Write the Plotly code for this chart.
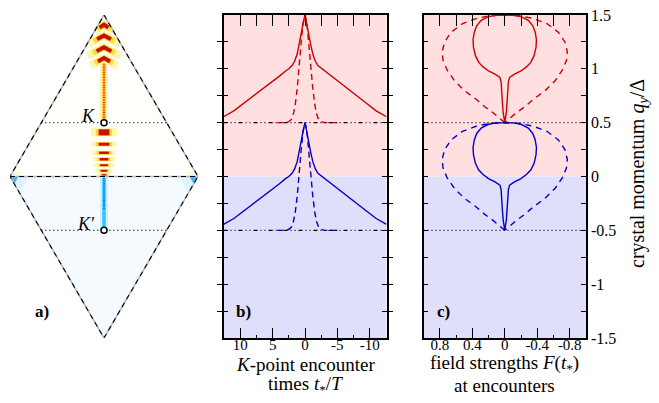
import plotly.graph_objects as go

W, H = 659, 403

# ---------------- data ----------------
# panel b: K-point encounter times (half curves, t >= 0), mirrored for t < 0
red_solid_t = [0, 0.2, 0.4, 0.6, 0.9, 1.2, 1.6, 2.0, 2.5, 3.0, 4.0, 5.0, 6.5, 8.0, 9.5, 11.0, 12.6]
red_solid_q = [1.5, 1.45, 1.38, 1.31, 1.22, 1.14, 1.07, 1.03, 1.0, 0.98, 0.93, 0.885, 0.82, 0.75, 0.68, 0.61, 0.555]
red_dash_t = [0, 0.3, 0.6, 0.9, 1.2, 1.5, 1.8, 2.1, 2.5, 3.0, 5.0]
red_dash_q = [1.5, 1.42, 1.24, 1.0, 0.82, 0.67, 0.58, 0.53, 0.51, 0.5, 0.5]
blue_solid_t = [0, 0.2, 0.4, 0.6, 0.9, 1.2, 1.6, 2.0, 2.5, 3.0, 4.0, 5.0, 6.5, 8.0, 9.5, 11.0, 12.6]
blue_solid_q = [0.5, 0.45, 0.38, 0.31, 0.22, 0.14, 0.07, 0.03, 0.0, -0.02, -0.07, -0.115, -0.18, -0.25, -0.32, -0.39, -0.445]
blue_dash_t = [0, 0.3, 0.6, 0.9, 1.2, 1.5, 1.8, 2.1, 2.5, 3.0, 5.0]
blue_dash_q = [0.5, 0.42, 0.24, 0.0, -0.18, -0.33, -0.42, -0.47, -0.49, -0.5, -0.5]
ref_lines_q = [0.5, -0.5]

# panel c: field strengths at encounters (half loops, F >= 0), mirrored
red_solid_F = [0, 0.02, 0.03, 0.04, 0.045, 0.06, 0.12, 0.2, 0.27, 0.32, 0.36, 0.385, 0.39, 0.375, 0.345, 0.29, 0.2, 0.1, 0]
red_solid_qc = [0.5, 0.6, 0.7, 0.8, 0.88, 0.92, 0.95, 0.98, 1.02, 1.06, 1.12, 1.2, 1.27, 1.34, 1.4, 1.45, 1.485, 1.498, 1.5]
red_dash_F = [0, 0.14, 0.25, 0.34, 0.5, 0.62, 0.71, 0.76, 0.77, 0.74, 0.66, 0.52, 0.34, 0.16, 0]
red_dash_qc = [0.5, 0.59, 0.65, 0.71, 0.8, 0.89, 0.99, 1.08, 1.16, 1.25, 1.34, 1.42, 1.47, 1.495, 1.5]
blue_solid_F = [0, 0.02, 0.03, 0.04, 0.045, 0.06, 0.12, 0.2, 0.27, 0.32, 0.36, 0.385, 0.39, 0.375, 0.345, 0.29, 0.2, 0.1, 0]
blue_solid_qc = [-0.5, -0.4, -0.3, -0.2, -0.12, -0.08, -0.05, -0.02, 0.02, 0.06, 0.12, 0.2, 0.27, 0.34, 0.4, 0.45, 0.485, 0.498, 0.5]
blue_dash_F = [0, 0.14, 0.25, 0.34, 0.5, 0.62, 0.71, 0.76, 0.77, 0.74, 0.66, 0.52, 0.34, 0.16, 0]
blue_dash_qc = [-0.5, -0.41, -0.35, -0.29, -0.2, -0.11, -0.01, 0.08, 0.16, 0.25, 0.34, 0.42, 0.47, 0.495, 0.5]

# axis ticks
b_ticks = [10, 5, 0, -5, -10]
b_ticktext = ["10", "5", "0", "-5", "-10"]
c_ticks = [0.8, 0.4, 0, -0.4, -0.8]
c_ticktext = ["0.8", "0.4", "0", "-0.4", "-0.8"]
q_ticks = [1.5, 1, 0.5, 0, -0.5, -1, -1.5]
q_ticktext = ["1.5", "1", "0.5", "0", "-0.5", "-1", "-1.5"]

# panel a: Brillouin-zone diamond and density pattern
diamond_x = [0, 0.866, 0, -0.866, 0]
diamond_q = [1.5, 0, -1.5, 0, 1.5]
valley_q = [0.5, -0.5]
stripe_q = [0.41, 0.30, 0.22, 0.16, 0.105, 0.053, 0.015]
stripe_core_hw = [0.05, 0.05, 0.045, 0.04, 0.035, 0.03, 0.022]
stripe_halo_hw = [0.12, 0.12, 0.11, 0.10, 0.09, 0.08, 0.06]
stripe_core_w = [6, 3, 2.5, 2.5, 2, 2, 1.5]
chev_q = [1.41, 1.31, 1.20, 1.10]
chev_hw = [0.05, 0.08, 0.085, 0.07]
chev_depth = [0.035, 0.045, 0.045, 0.04]

RED = "#cc0000"
BLUE = "#0000cc"
PINK = "#ffdfe0"
LAV = "#dfdffb"
FONT = "Liberation Serif"


def mirror(xs, ys):
    xx = [-v for v in reversed(xs)] + list(xs[1:])
    yy = list(reversed(ys)) + list(ys[1:])
    return xx, yy


def loop(xs, ys):
    xx = list(xs) + [-v for v in reversed(xs)]
    yy = list(ys) + list(reversed(ys))
    return xx, yy


fig = go.Figure()

# ---------- panel b ----------
for t, q, col, dash in [(red_solid_t, red_solid_q, RED, "solid"), (red_dash_t, red_dash_q, RED, "6px,4px"),
                        (blue_solid_t, blue_solid_q, BLUE, "solid"), (blue_dash_t, blue_dash_q, BLUE, "6px,4px")]:
    xx, yy = mirror(t, q)
    fig.add_trace(go.Scatter(x=xx, y=yy, mode="lines", line=dict(color=col, width=1.4, dash=dash),
                             xaxis="x", yaxis="y", hoverinfo="skip"))
for q in ref_lines_q:
    fig.add_trace(go.Scatter(x=[12.6, -12.6], y=[q, q], mode="lines",
                             line=dict(color="black", width=1.2, dash="4px,3px,1px,3px,1px,3px"),
                             xaxis="x3", yaxis="y", hoverinfo="skip"))

# ---------- panel c ----------
for F, q, col, dash in [(red_solid_F, red_solid_qc, RED, "solid"), (red_dash_F, red_dash_qc, RED, "6px,5px"),
                        (blue_solid_F, blue_solid_qc, BLUE, "solid"), (blue_dash_F, blue_dash_qc, BLUE, "6px,5px")]:
    xx, yy = loop(F, q)
    fig.add_trace(go.Scatter(x=xx, y=yy, mode="lines", line=dict(color=col, width=1.4, dash=dash),
                             xaxis="x2", yaxis="y2", hoverinfo="skip"))
for q in ref_lines_q:
    fig.add_trace(go.Scatter(x=[1.0, -1.0], y=[q, q], mode="lines",
                             line=dict(color="black", width=1.2, dash="1px,3px"),
                             xaxis="x4", yaxis="y2", hoverinfo="skip"))

# ---------- panel a ----------
A = dict(xaxis="x5", yaxis="y5", hoverinfo="skip", showlegend=False)
fig.add_trace(go.Scatter(x=[-0.866, 0, 0.866, -0.866], y=[0, 1.5, 0, 0], fill="toself",
                         fillcolor="#fffffc", mode="none", **A))
fig.add_trace(go.Scatter(x=[-0.866, 0, 0.866, -0.866], y=[0, -1.5, 0, 0], fill="toself",
                         fillcolor="#f4faff", mode="none", **A))
for s in [-1, 1]:
    fig.add_trace(go.Scatter(x=[s * 0.866, s * 0.70, s * 0.76, s * 0.866], y=[0, 0, -0.14, 0], fill="toself",
                             fillcolor="#dcf3ff", mode="none", **A))
    fig.add_trace(go.Scatter(x=[s * 0.866, s * 0.79, s * 0.82, s * 0.866], y=[0, 0, -0.06, 0], fill="toself",
                             fillcolor="#33bbff", mode="none", **A))
    fig.add_trace(go.Scatter(x=[s * 0.866, s * 0.74, s * 0.80, s * 0.866], y=[0, 0, 0.06, 0], fill="toself",
                             fillcolor="#fff8d8", mode="none", **A))
# upper stem
fig.add_trace(go.Scatter(x=[0, 0], y=[0.5, 1.08], mode="lines", line=dict(color="#fff3b0", width=8), **A))
fig.add_trace(go.Scatter(x=[0, 0], y=[0.5, 1.08], mode="lines", line=dict(color="#ffbb33", width=3.5), **A))
fig.add_trace(go.Scatter(x=[0, 0], y=[0.52, 1.06], mode="lines", line=dict(color="#ee3300", width=2, dash="1px,1.5px"), **A))
# chevrons
for q, hw, d in zip(chev_q, chev_hw, chev_depth):
    fig.add_trace(go.Scatter(x=[-hw * 1.8, 0, hw * 1.8], y=[q - d * 1.8, q, q - d * 1.8], mode="lines",
                             line=dict(color="#fff4b8", width=8), **A))
for q, hw, d in zip(chev_q, chev_hw, chev_depth):
    fig.add_trace(go.Scatter(x=[-hw * 1.2, 0, hw * 1.2], y=[q - d * 1.2, q, q - d * 1.2], mode="lines",
                             line=dict(color="#ffdd33", width=5.5), **A))
    fig.add_trace(go.Scatter(x=[-hw * 0.8, 0, hw * 0.8], y=[q - d * 0.8, q, q - d * 0.8], mode="lines",
                             line=dict(color="#c81000", width=4), **A))
# stripes below K
for q, chw, hhw, w in zip(stripe_q, stripe_core_hw, stripe_halo_hw, stripe_core_w):
    fig.add_trace(go.Scatter(x=[-hhw, hhw], y=[q, q], mode="lines",
                             line=dict(color="#fff5b0", width=w + 2), **A))
    fig.add_trace(go.Scatter(x=[-chw * 1.5, chw * 1.5], y=[q, q], mode="lines",
                             line=dict(color="#ffd633", width=w + 1), **A))
    fig.add_trace(go.Scatter(x=[-chw, chw], y=[q, q], mode="lines",
                             line=dict(color="#c81000", width=w), **A))
# lower blue stem
fig.add_trace(go.Scatter(x=[0, 0], y=[-0.5, -0.01], mode="lines", line=dict(color="#cdefff", width=8), **A))
fig.add_trace(go.Scatter(x=[0, 0], y=[-0.48, -0.01], mode="lines", line=dict(color="#33c6ff", width=3.5), **A))
fig.add_trace(go.Scatter(x=[0, 0], y=[-0.3, -0.01], mode="lines", line=dict(color="#0066ee", width=2, dash="1px,1.5px"), **A))
# outline: gray solid under black dashes
fig.add_trace(go.Scatter(x=diamond_x, y=diamond_q, mode="lines", line=dict(color="#b8b8b8", width=1.6), **A))
fig.add_trace(go.Scatter(x=diamond_x, y=diamond_q, mode="lines", line=dict(color="black", width=1.1, dash="5px,4px"), **A))
fig.add_trace(go.Scatter(x=[-0.866, 0.866], y=[0, 0], mode="lines", line=dict(color="#b8b8b8", width=1.6), **A))
fig.add_trace(go.Scatter(x=[-0.866, 0.866], y=[0, 0], mode="lines", line=dict(color="black", width=1.1, dash="5px,4px"), **A))
for q in valley_q:
    hw = 0.866 * (1 - abs(q) / 1.5)
    fig.add_trace(go.Scatter(x=[-hw, hw], y=[q, q], mode="lines", line=dict(color="black", width=1.1, dash="1px,3px"), **A))
fig.add_trace(go.Scatter(x=[0, 0], y=valley_q, mode="markers",
                         marker=dict(color="white", size=6, line=dict(color="black", width=1.5)), **A))

# ---------- layout ----------
ydom = [1 - 338 / H, 1 - 15 / H]
bx = [223.5 / W, 386.5 / W]
cx = [423.5 / W, 586 / W]
ax_common = dict(showline=True, linecolor="black", linewidth=1.6, showgrid=False, zeroline=False, automargin=False,
                 ticks="inside", tickcolor="black", tickwidth=1.3)
tf15 = dict(family=FONT, size=15, color="black")
tf16 = dict(family=FONT, size=16, color="black")

fig.update_layout(
    template="none",
    width=W, height=H, margin=dict(l=0, r=0, t=0, b=0, autoexpand=False),
    paper_bgcolor="white", plot_bgcolor="white", showlegend=False,
    font=dict(family=FONT, color="black"),
    xaxis=dict(domain=bx, range=[12.6, -12.6], anchor="y", tickvals=b_ticks, ticktext=b_ticktext, ticklen=10,
               ticklabelstandoff=-8, tickfont=tf15,
               minor=dict(tickvals=[7.5, 2.5, -2.5, -7.5], ticklen=3, ticks="inside", tickcolor="black", tickwidth=1.3),
               **ax_common),
    xaxis3=dict(domain=bx, range=[12.6, -12.6], anchor="y", overlaying="x", side="top",
                tickvals=[10, 7.5, 5, 2.5, 0, -2.5, -5, -7.5, -10], ticklen=11, showticklabels=False, **ax_common),
    yaxis=dict(domain=ydom, range=[-1.5, 1.5], anchor="x", tickvals=[-1.25 + 0.25 * i for i in range(11)],
               ticklen=5, showticklabels=False, mirror="allticks", **ax_common),
    xaxis2=dict(domain=cx, range=[1.0, -1.0], anchor="y2", tickvals=c_ticks, ticktext=c_ticktext, ticklen=10,
                ticklabelstandoff=-8, tickfont=tf15,
                minor=dict(tickvals=[0.6, 0.2, -0.2, -0.6], ticklen=3, ticks="inside", tickcolor="black", tickwidth=1.3),
                **ax_common),
    xaxis4=dict(domain=cx, range=[1.0, -1.0], anchor="y2", overlaying="x2", side="top",
                tickvals=[0.8, 0.6, 0.4, 0.2, 0, -0.2, -0.4, -0.6, -0.8], ticklen=11, showticklabels=False, **ax_common),
    yaxis2=dict(domain=ydom, range=[-1.5, 1.5], anchor="x2", side="right", tickvals=q_ticks, ticktext=q_ticktext,
                ticklen=5, mirror="allticks", tickfont=tf16,
                minor=dict(tickvals=[-1.25, -0.75, -0.25, 0.25, 0.75, 1.25], ticklen=5, ticks="inside",
                           tickcolor="black", tickwidth=1.3),
                **ax_common),
    xaxis5=dict(domain=[10 / W, 198 / W], range=[-0.866, 0.866], anchor="y5", visible=False),
    yaxis5=dict(domain=ydom, range=[-1.5, 1.5], anchor="x5", visible=False),
)

for xr, yr in [("x domain", "y"), ("x2 domain", "y2")]:
    fig.add_shape(type="rect", xref=xr, yref=yr, x0=0, x1=1, y0=0, y1=1.5, fillcolor=PINK, line_width=0, layer="below")
    fig.add_shape(type="rect", xref=xr, yref=yr, x0=0, x1=1, y0=-1.5, y1=0, fillcolor=LAV, line_width=0, layer="below")


def ann(text, x, y, size=17, angle=0, xanchor="center"):
    fig.add_annotation(text=text, x=x / W, y=1 - y / H, xref="paper", yref="paper", showarrow=False,
                       font=dict(family=FONT, size=size, color="black"), textangle=angle,
                       xanchor=xanchor, yanchor="middle")


ann("<i>K</i>", 88, 116, 18)
ann("<i>K′</i>", 86, 224, 18)
ann("<b>a)</b>", 42, 311, 17)
ann("<b>b)</b>", 244, 311, 17)
ann("<b>c)</b>", 443, 311, 17)
ann("<i>K</i>-point encounter", 305, 364, 19)
ann("times <i>t</i><sub>*</sub>/<i>T</i>", 305, 385, 19)
ann("field strengths <i>F</i>(<i>t</i><sub>*</sub>)", 504, 364, 19)
ann("at encounters", 504, 385, 19)
ann("crystal momentum <i>q</i><sub><i>y</i></sub>/Δ", 638, 174, 20, angle=-90)

fig.write_html("out.html", config={"displayModeBar": False},
               post_script="document.body.style.margin='0';document.body.style.padding='0';")
